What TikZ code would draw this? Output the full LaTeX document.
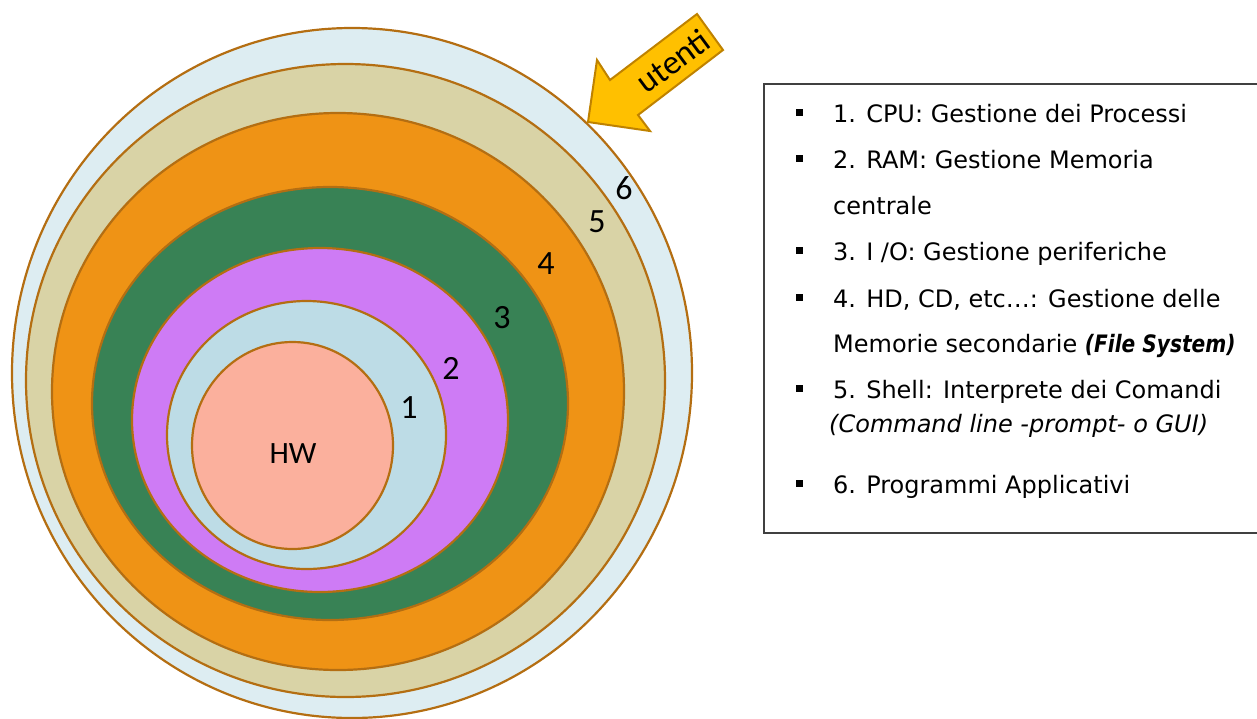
\documentclass[tikz,border=0pt]{standalone}
\usepackage{fontspec}
\setmainfont{DejaVu Sans}[BoldItalicFeatures={FakeStretch=0.84}]
\newfontfamily\lblfont{Carlito}
\definecolor{ringline}{HTML}{B46E12}
\definecolor{csix}{HTML}{DDEDF2}
\definecolor{cfive}{HTML}{D9D3A6}
\definecolor{cfour}{HTML}{EF9315}
\definecolor{cthree}{HTML}{388255}
\definecolor{ctwo}{HTML}{CE7BF5}
\definecolor{cone}{HTML}{BDDCE6}
\definecolor{chw}{HTML}{FBB09D}
\definecolor{arrowfill}{HTML}{FFC000}
\definecolor{arrowline}{HTML}{BF8200}
\definecolor{boxline}{HTML}{404040}
\begin{document}
\begin{tikzpicture}[x=1pt,y=-1pt,
  ring/.style={draw=ringline, line width=2.2pt},
  lbl/.style={font=\lblfont\fontsize{34}{38}\selectfont, inner sep=0pt},
  item/.style={anchor=base west, inner sep=0pt, font=\fontsize{24}{28}\selectfont},
  bullet/.style={fill=black, minimum width=7pt, minimum height=7.5pt, inner sep=0pt}]
\useasboundingbox (0,0) rectangle (1257,718);
% concentric layers
\draw[ring, fill=csix]   (352,373)   ellipse [x radius=340pt, y radius=345pt];
\draw[ring, fill=cfive]  (345.5,380.5) ellipse [x radius=319.5pt, y radius=316.5pt];
\draw[ring, fill=cfour]  (338,391.5) ellipse [x radius=286pt, y radius=278.5pt];
\draw[ring, fill=cthree] (330,403.5) ellipse [x radius=238pt, y radius=216.5pt];
\draw[ring, fill=ctwo]   (320,420)   ellipse [x radius=188pt, y radius=172pt];
\draw[ring, fill=cone]   (306.5,435) ellipse [x radius=139.5pt, y radius=134pt];
\draw[ring, fill=chw]    (292.5,445.5) ellipse [x radius=100.5pt, y radius=103.5pt];
\node[lbl, font=\lblfont\fontsize{31}{35}\selectfont] (hw) at (293,454) {HW};
\node[lbl] (n1) at (409,408) {1};
\node[lbl] (n2) at (451,368) {2};
\node[lbl] (n3) at (502,318) {3};
\node[lbl] (n4) at (546,264) {4};
\node[lbl] (n5) at (597,222) {5};
\node[lbl] (n6) at (624,188) {6};
% users arrow
\draw[fill=arrowfill, draw=arrowline, line width=2pt, line join=miter]
  (588,122) -- (597,60) -- (610,80) -- (697,14) -- (723,50) -- (638,115) -- (650,131) -- cycle;
\node[lbl, rotate=36.5] (utenti) at (673,61) {utenti};
% legend box
\draw[draw=boxline, line width=1.2pt] (764,84) rectangle (1262,533);
\node[bullet] (b1) at (799.5,112.5) {};
\node[item] (t1) at (833,122) {1. CPU: Gestione dei Processi};
\node[bullet] (b2) at (799.5,158.5) {};
\node[item] (t2) at (833,168) {2. RAM: Gestione Memoria};
\node[item] (t2b) at (833,214) {centrale};
\node[bullet] (b3) at (799.5,250.5) {};
\node[item] (t3) at (833,260) {3. I /O: Gestione periferiche};
\node[bullet] (b4) at (799.5,297.5) {};
\node[item] (t4) at (833,307) {4. HD, CD, etc…: Gestione delle};
\node[item] (t4b) at (833,352) {Memorie secondarie \textit{\textbf{(File System)}}};
\node[bullet] (b5) at (799.5,388.5) {};
\node[item] (t5) at (833,398) {5. Shell: Interprete dei Comandi};
\node[item] (t5b) at (829,432) {\textit{(Command line -prompt- o GUI)}};
\node[bullet] (b6) at (799.5,483.5) {};
\node[item] (t6) at (833,493) {6. Programmi Applicativi};
\end{tikzpicture}
\end{document}
